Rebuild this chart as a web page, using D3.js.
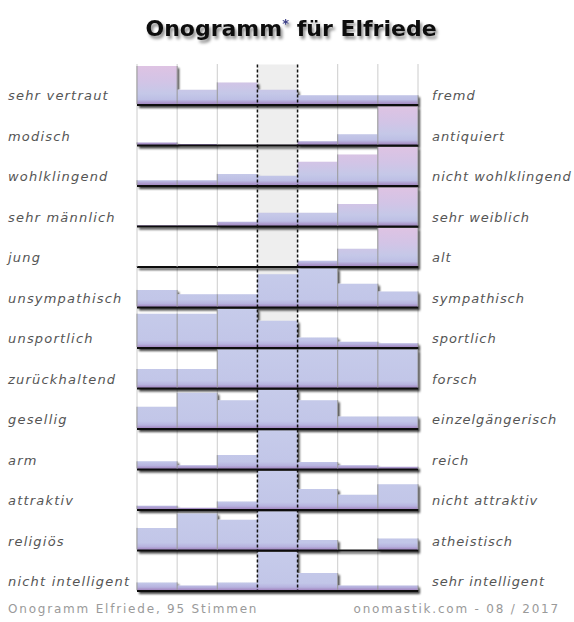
<!DOCTYPE html>
<html>
<head>
<meta charset="utf-8">
<script src="https://cdn.jsdelivr.net/npm/d3@7/dist/d3.min.js"></script>
<style>
  body { margin: 0; background: #fff; }
  .label { font-family: "DejaVu Sans", sans-serif; font-style: italic; font-size: 13px; fill: #555; letter-spacing: 1.2px; }
  .label.right { letter-spacing: 0.95px; }
  .foot { font-family: "DejaVu Sans", sans-serif; font-size: 12px; fill: #9a9a9a; letter-spacing: 1.8px; }
</style>
</head>
<body>
<div id="chart"></div>
<script>
var leftLabels = ["sehr vertraut", "modisch", "wohlklingend", "sehr männlich", "jung",
    "unsympathisch", "unsportlich", "zurückhaltend", "gesellig", "arm", "attraktiv",
    "religiös", "nicht intelligent"];
var rightLabels = ["fremd", "antiquiert", "nicht wohlklingend", "sehr weiblich", "alt",
    "sympathisch", "sportlich", "forsch", "einzelgängerisch", "reich", "nicht attraktiv",
    "atheistisch", "sehr intelligent"];
// bar heights per row, 7 steps, largest = 100
var values = [
    [100, 39, 58, 39, 25, 25, 25],
    [8, 4, 2, 2, 11, 29, 100],
    [15, 15, 31, 26, 62, 81, 100],
    [3, 3, 12, 35, 35, 58, 100],
    [0, 0, 0, 0, 16, 47, 100],
    [45, 34, 34, 85, 100, 61, 41],
    [88, 88, 100, 70, 27, 16, 12],
    [50, 50, 100, 100, 100, 100, 100],
    [57, 93, 74, 100, 74, 32, 32],
    [21, 11, 37, 100, 19, 11, 7],
    [11, 6, 22, 100, 54, 39, 66],
    [58, 95, 79, 100, 27, 0, 31],
    [22, 14, 22, 100, 46, 14, 14]
];
var pinkRows = 5;
var steps = d3.range(7);

var width = 574, height = 622;
var svg = d3.select("#chart").append("svg")
    .attr("width", width)
    .attr("height", height);

var defs = svg.append("defs");

var shadow = defs.append("filter").attr("id", "shadow")
    .attr("x", "-10%").attr("y", "-10%").attr("width", "130%").attr("height", "140%");
shadow.append("feDropShadow")
    .attr("dx", 2).attr("dy", 2).attr("stdDeviation", 0.9)
    .attr("flood-color", "#000").attr("flood-opacity", 0.75);

var tshadow = defs.append("filter").attr("id", "tshadow")
    .attr("x", "-10%").attr("y", "-30%").attr("width", "130%").attr("height", "180%");
tshadow.append("feDropShadow")
    .attr("dx", 2).attr("dy", 3).attr("stdDeviation", 1.6)
    .attr("flood-color", "#000").attr("flood-opacity", 0.45);

function gradient(id, stops) {
    var g = defs.append("linearGradient").attr("id", id)
        .attr("x1", 0).attr("y1", 0).attr("x2", 0).attr("y2", 1);
    stops.forEach(function(s) {
        g.append("stop").attr("offset", s[0]).attr("stop-color", s[1]);
    });
}
gradient("pink", [[0, "#dec3e3"], [0.4, "#d2c4e6"], [0.7, "#c5c8e8"], [0.86, "#bdbfe5"], [0.95, "#a993c8"], [1, "#9c84be"]]);
gradient("blue", [[0, "#c6cbea"], [0.8, "#c2c6e8"], [0.9, "#b7b3df"], [0.96, "#a790c6"], [1, "#9c84be"]]);

var x = d3.scaleBand().domain(steps).range([137, 418]);
var row = d3.scaleBand().domain(d3.range(values.length)).range([64.5, 591]);
var h = d3.scaleLinear().domain([0, 100]).range([0, 39]);

var gridTop = row.range()[0], gridBottom = row.range()[1];

// middle column background
svg.append("rect")
    .attr("x", x(3)).attr("y", gridTop)
    .attr("width", x.bandwidth()).attr("height", gridBottom - gridTop)
    .attr("fill", "#eeeeee");

// dotted grid lines
var bounds = d3.range(8).map(function(i) { return x.range()[0] + i * x.bandwidth(); });
svg.selectAll(".grid").data(bounds.filter(function(d, i) { return i != 3 && i != 4; }))
    .enter().append("line")
    .attr("x1", function(d) { return d; }).attr("x2", function(d) { return d; })
    .attr("y1", gridTop).attr("y2", gridBottom)
    .attr("stroke", "#999").attr("stroke-width", 1)
    .attr("stroke-dasharray", "1,1");

var rows = svg.selectAll(".row").data(values).enter().append("g")
    .attr("class", "row");

rows.each(function(vals, r) {
    var g = d3.select(this);
    var base = row(r) + row.bandwidth();
    var sg = g.append("g").attr("filter", "url(#shadow)");
    var p = d3.path();
    p.moveTo(x(0), base);
    vals.forEach(function(v, i) {
        p.lineTo(x(i), base - h(v));
        p.lineTo(x(i) + x.bandwidth(), base - h(v));
    });
    p.lineTo(x(6) + x.bandwidth(), base);
    p.closePath();
    sg.append("path")
        .attr("d", p.toString())
        .attr("fill", r < pinkRows ? "url(#pink)" : "url(#blue)");
    sg.append("line")
        .attr("x1", x(0)).attr("x2", x(6) + x.bandwidth())
        .attr("y1", base).attr("y2", base)
        .attr("stroke", "#111").attr("stroke-width", 2);

    // solid separators inside the bars
    g.selectAll(".sep").data(bounds).enter().append("line")
        .attr("x1", function(d) { return d; }).attr("x2", function(d) { return d; })
        .attr("y1", base - 1)
        .attr("y2", function(d, i) {
            var a = i > 0 ? vals[i - 1] : 0, b = i < 7 ? vals[i] : 0;
            return base - h(Math.max(a, b));
        })
        .attr("stroke", "#999").attr("stroke-width", 1)
        .style("display", function(d, i) { return i == 3 || i == 4 ? "none" : null; });

    g.append("text").attr("class", "label")
        .attr("x", 8).attr("y", base - 5)
        .text(leftLabels[r]);
    g.append("text").attr("class", "label right")
        .attr("x", 432).attr("y", base - 5)
        .text(rightLabels[r]);
});

// dashed borders of the middle column
svg.selectAll(".mid").data([bounds[3], bounds[4]]).enter().append("line")
    .attr("x1", function(d) { return d; }).attr("x2", function(d) { return d; })
    .attr("y1", gridTop).attr("y2", gridBottom)
    .attr("stroke", "#111").attr("stroke-width", 1.5)
    .attr("stroke-dasharray", "3,2");

// title
var title = svg.append("text")
    .attr("x", 291).attr("y", 36)
    .attr("text-anchor", "middle")
    .attr("filter", "url(#tshadow)")
    .style("font-family", "'DejaVu Sans', Verdana, sans-serif")
    .style("font-weight", "bold")
    .style("font-size", "22px")
    .style("fill", "#111");
title.append("tspan").text("Onogramm");
title.append("tspan").attr("dy", -8).style("font-size", "13px").style("fill", "#3b3f86").text("*");
title.append("tspan").attr("dy", 8).text(" für Elfriede");

// footer
svg.append("text").attr("class", "foot")
    .attr("x", 8).attr("y", 613)
    .text("Onogramm Elfriede, 95 Stimmen");
svg.append("text").attr("class", "foot")
    .attr("x", 560).attr("y", 613).attr("text-anchor", "end")
    .text("onomastik.com - 08 / 2017");
</script>
</body>
</html>
